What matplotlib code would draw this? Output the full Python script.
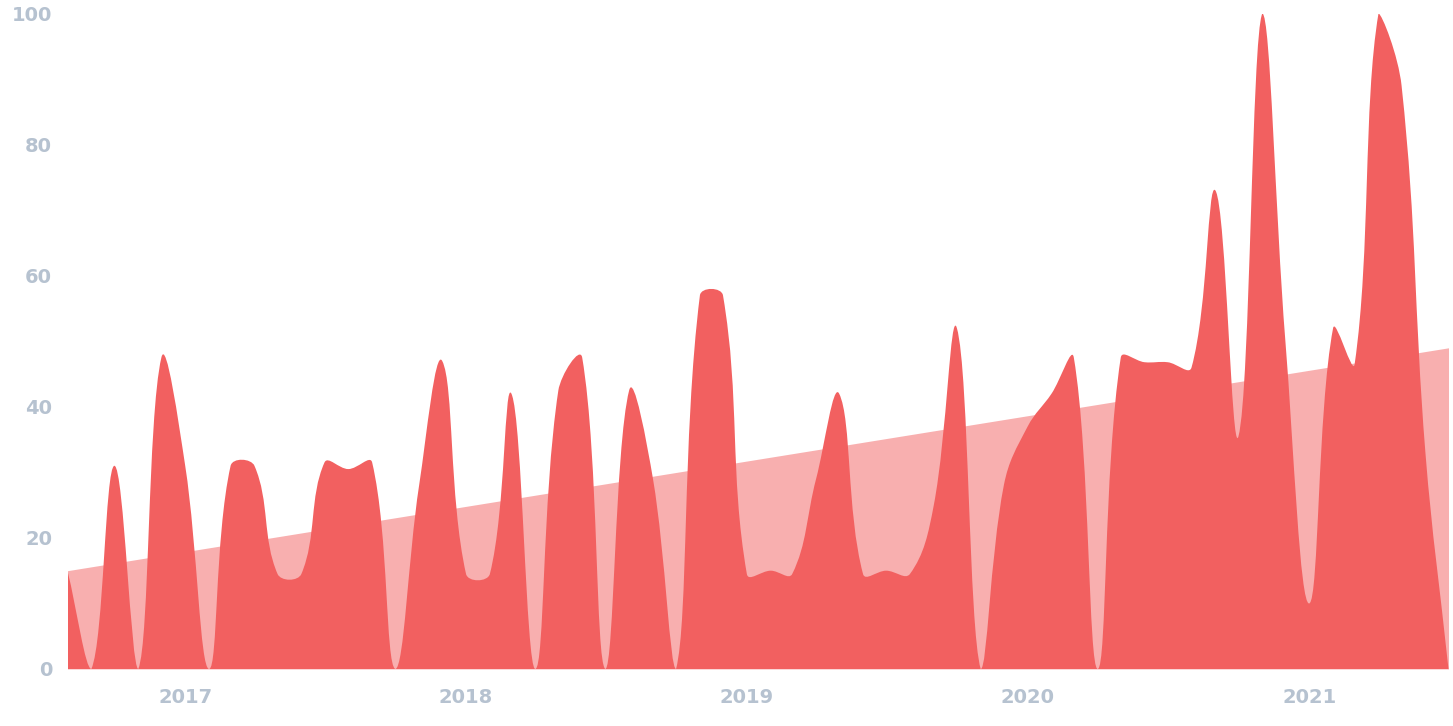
import numpy as np
import pandas as pd
import matplotlib
matplotlib.use("Agg")
import matplotlib.pyplot as plt
import matplotlib.dates as mdates
from matplotlib.path import Path
from matplotlib.patches import PathPatch

# ---------------- data ----------------
months = pd.date_range("2016-08-01", periods=60, freq="MS")
values = [15, 0, 31, 0, 47.5, 31, 0, 31, 31, 14.5,
          14.5, 31.5, 30.5, 31.5, 0, 28, 47, 14.5, 14.5, 42,
          0, 42.5, 47.5, 0, 42.5, 29, 0, 57, 57, 14.5,
          15, 14.5, 29, 42, 14.5, 15, 14.5, 25, 52, 0,
          28, 37, 42, 47.5, 0, 47.5, 46.8, 46.8, 46, 73,
          35.5, 100, 50, 10, 52, 46.5, 100, 89, 33, 0]
trend_values = [15, 49]          # trend line at first and last month
year_ticks = ["2017-01-01", "2018-01-01", "2019-01-01", "2020-01-01", "2021-01-01"]
year_labels = ["2017", "2018", "2019", "2020", "2021"]
y_ticks = [0, 20, 40, 60, 80, 100]

RED = "#F26060"
LABEL = "#B6C2D0"
TENSION = 0.4

plt.rcParams["font.family"] = ["DejaVu Sans"]
plt.rcParams["font.weight"] = "bold"

fig = plt.figure(figsize=(14.53, 7.26), dpi=100)
ax = fig.add_axes([67.5 / 1453, 57 / 726, 1381 / 1453, 655.5 / 726])
x = mdates.date2num(months)
ax.set_xlim(x[0], x[-1])
ax.set_ylim(0, 100)

# trend area (behind)
ax.fill_between([x[0], x[-1]], [0, 0], trend_values, color=RED, alpha=0.5, lw=0, zorder=1)

# smoothed area (Chart.js-like spline, computed in display space)
pts = ax.transData.transform(np.column_stack([x, values]))
n = len(pts)
cp_prev = np.zeros_like(pts)
cp_next = np.zeros_like(pts)
for i in range(n):
    prev = pts[i - 1] if i > 0 else pts[i]
    cur = pts[i]
    nxt = pts[i + 1] if i < n - 1 else pts[i]
    d01 = np.hypot(*(cur - prev))
    d12 = np.hypot(*(nxt - cur))
    s = d01 + d12
    s01 = d01 / s if s else 0.0
    s12 = d12 / s if s else 0.0
    cp_prev[i] = cur - TENSION * s01 * (nxt - prev)
    cp_next[i] = cur + TENSION * s12 * (nxt - prev)

bx0, by0, bx1, by1 = ax.bbox.extents
cp_prev[:, 0] = np.clip(cp_prev[:, 0], bx0, bx1)
cp_next[:, 0] = np.clip(cp_next[:, 0], bx0, bx1)
cp_prev[:, 1] = np.clip(cp_prev[:, 1], by0, by1)
cp_next[:, 1] = np.clip(cp_next[:, 1], by0, by1)

verts = [pts[0]]
codes = [Path.MOVETO]
for i in range(n - 1):
    verts += [cp_next[i], cp_prev[i + 1], pts[i + 1]]
    codes += [Path.CURVE4] * 3
verts += [[pts[-1][0], by0], [pts[0][0], by0], pts[0]]
codes += [Path.LINETO, Path.LINETO, Path.CLOSEPOLY]
verts = ax.transData.inverted().transform(np.array(verts))
patch = PathPatch(Path(verts, codes), facecolor=RED, edgecolor="none", lw=0, zorder=2)
ax.add_patch(patch)

# axes styling
for sp in ax.spines.values():
    sp.set_visible(False)
ax.set_yticks(y_ticks)
ax.set_yticklabels([str(v) for v in y_ticks])
ax.set_xticks(mdates.date2num(pd.to_datetime(year_ticks)))
ax.set_xticklabels(year_labels)
ax.tick_params(axis="both", length=0, colors=LABEL, labelsize=14)
ax.tick_params(axis="y", pad=11)
ax.tick_params(axis="x", pad=13.5)
for lab in ax.get_xticklabels() + ax.get_yticklabels():
    lab.set_fontweight("bold")
ax.grid(False)

fig.savefig("out.png", dpi=100, facecolor="white")
